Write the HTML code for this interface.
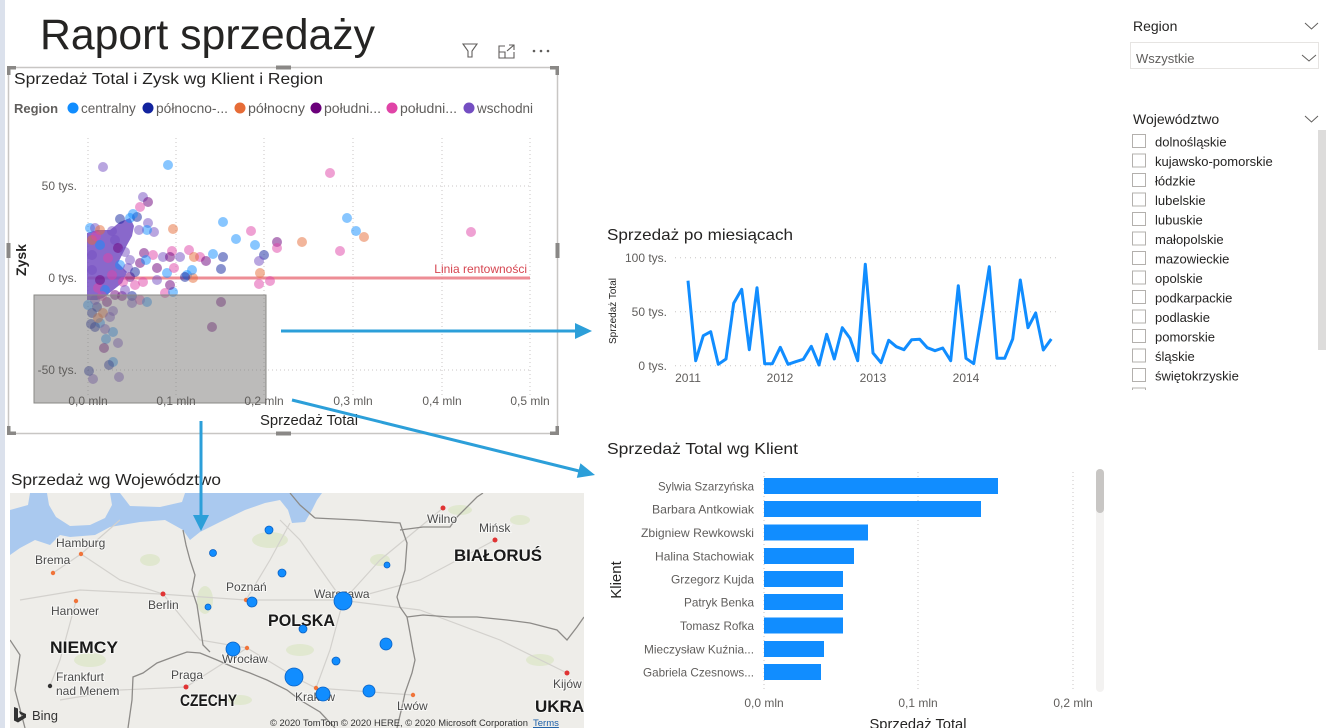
<!DOCTYPE html>
<html><head><meta charset="utf-8">
<style>
html,body{margin:0;padding:0;background:#fff;}
body{width:1329px;height:728px;overflow:hidden;position:relative;}
svg{position:absolute;left:0;top:0;}
text{font-family:"Liberation Sans",sans-serif;}
.c{fill:#118DFF}.n{fill:#12239E}.o{fill:#E66C37}.p{fill:#6B007B}.k{fill:#E044A7}.w{fill:#744EC2}
.pts circle{fill-opacity:.5}
.ax{fill:#605E5C;font-size:12px}
.city{fill:#4a4a4a;font-size:12px;paint-order:stroke;stroke:#fff;stroke-width:2px;stroke-opacity:.6}
.ctry{fill:#1a1a1a;font-size:17px;font-weight:bold;paint-order:stroke;stroke:#fff;stroke-width:2px;stroke-opacity:.6}
.it{fill:#252423;font-size:13px}
</style></head><body>
<svg width="1329" height="728" viewBox="0 0 1329 728" xmlns="http://www.w3.org/2000/svg">
<rect x="0" y="0" width="5" height="728" fill="#dbe1ec"/>

<text x="40" y="49" font-size="43" fill="#252423" textLength="335" lengthAdjust="spacingAndGlyphs">Raport sprzedaży</text>

<g stroke="#605E5C" stroke-width="1.1" fill="none">
<path d="M463 44 H477 L472 51 V57 H468 V51 Z"/>
<path d="M505 46 H499 V58 H514 V52"/>
<path d="M499 52 H505 V58"/>
<path d="M507 51 L514 45 M509 45 H514 V50"/>
</g>
<g fill="#605E5C"><circle cx="534" cy="51" r="1.3"/><circle cx="541" cy="51" r="1.3"/><circle cx="548" cy="51" r="1.3"/></g>

<rect x="8.5" y="67.5" width="549" height="366" fill="none" stroke="#c8c6c4" stroke-width="1.5"/>
<g fill="#8a8886">
<rect x="7" y="66" width="9" height="3.5"/><rect x="7" y="66" width="3.5" height="9"/>
<rect x="550" y="66" width="9" height="3.5"/><rect x="555.5" y="66" width="3.5" height="9"/>
<rect x="7" y="431.5" width="9" height="3.5"/><rect x="7" y="426" width="3.5" height="9"/>
<rect x="550" y="431.5" width="9" height="3.5"/><rect x="555.5" y="426" width="3.5" height="9"/>
<rect x="276" y="65.5" width="15" height="4"/><rect x="276" y="431.5" width="15" height="4"/>
<rect x="6.5" y="243" width="4" height="15"/><rect x="555.5" y="243" width="4" height="15"/>
</g>
<text x="14" y="84" font-size="16" fill="#252423" textLength="309" lengthAdjust="spacingAndGlyphs">Sprzedaż Total i Zysk wg Klient i Region</text>

<text x="14" y="113" font-size="13" font-weight="bold" fill="#605E5C">Region</text>
<circle cx="73" cy="108" r="5.5" class="c"/><text x="81" y="113" font-size="13.5" fill="#605E5C">centralny</text>
<circle cx="148" cy="108" r="5.5" class="n"/><text x="156" y="113" font-size="13.5" fill="#605E5C" textLength="72" lengthAdjust="spacingAndGlyphs">północno-...</text>
<circle cx="240" cy="108" r="5.5" class="o"/><text x="248" y="113" font-size="13.5" fill="#605E5C" textLength="57" lengthAdjust="spacingAndGlyphs">północny</text>
<circle cx="316" cy="108" r="5.5" class="p"/><text x="324" y="113" font-size="13.5" fill="#605E5C" textLength="57" lengthAdjust="spacingAndGlyphs">południ...</text>
<circle cx="392" cy="108" r="5.5" class="k"/><text x="400" y="113" font-size="13.5" fill="#605E5C" textLength="57" lengthAdjust="spacingAndGlyphs">południ...</text>
<circle cx="469" cy="108" r="5.5" class="w"/><text x="477" y="113" font-size="13.5" fill="#605E5C" textLength="56" lengthAdjust="spacingAndGlyphs">wschodni</text>

<g stroke="#c8c6c4" stroke-width="1" stroke-dasharray="1 3">
<line x1="88" y1="186" x2="530" y2="186"/>
<line x1="88" y1="370" x2="530" y2="370"/>
<line x1="88" y1="138" x2="88" y2="396"/>
<line x1="176" y1="138" x2="176" y2="396"/>
<line x1="264" y1="138" x2="264" y2="396"/>
<line x1="353" y1="138" x2="353" y2="396"/>
<line x1="442" y1="138" x2="442" y2="396"/>
<line x1="530" y1="138" x2="530" y2="396"/>
</g>

<line x1="88" y1="278" x2="530" y2="278" stroke="#E8707A" stroke-width="3" stroke-opacity=".8"/>
<text x="527" y="273" font-size="12" fill="#D64550" text-anchor="end">Linia rentowności</text>

<polygon points="87,233 97,230 110,230 120,222 130,218 134,226 132,236 127,245 122,255 118,263 127,272 122,283 112,291 103,298 97,300 87,300" fill="#744EC2" fill-opacity=".85"/>
<g class="pts">
<circle cx="103" cy="167" r="5" class="w"/>
<circle cx="168" cy="165" r="5" class="c"/>
<circle cx="330" cy="173" r="5" class="k"/>
<circle cx="143" cy="197" r="5" class="w"/>
<circle cx="148" cy="202" r="5" class="p"/>
<circle cx="140" cy="207" r="5" class="k"/>
<circle cx="223" cy="222" r="5" class="c"/>
<circle cx="173" cy="229" r="5" class="o"/>
<circle cx="120" cy="219" r="5" class="n"/>
<circle cx="130" cy="218" r="5" class="c"/>
<circle cx="137" cy="217" r="5" class="n"/>
<circle cx="133" cy="214" r="5" class="c"/>
<circle cx="90" cy="228" r="5" class="c"/>
<circle cx="95" cy="228" r="5" class="w"/>
<circle cx="100" cy="230" r="5" class="o"/>
<circle cx="112" cy="231" r="5" class="w"/>
<circle cx="148" cy="223" r="5" class="w"/>
<circle cx="154" cy="232" r="5" class="w"/>
<circle cx="147" cy="230" r="5" class="c"/>
<circle cx="139" cy="230" r="5" class="w"/>
<circle cx="251" cy="231" r="5" class="k"/>
<circle cx="236" cy="239" r="5" class="c"/>
<circle cx="255" cy="245" r="5" class="c"/>
<circle cx="277" cy="242" r="5" class="p"/>
<circle cx="277" cy="248" r="5" class="k"/>
<circle cx="264" cy="255" r="5" class="n"/>
<circle cx="259" cy="261" r="5" class="w"/>
<circle cx="260" cy="273" r="5" class="o"/>
<circle cx="259" cy="284" r="5" class="k"/>
<circle cx="270" cy="281" r="5" class="k"/>
<circle cx="213" cy="254" r="5" class="c"/>
<circle cx="223" cy="257" r="5" class="n"/>
<circle cx="221" cy="269" r="5" class="n"/>
<circle cx="189" cy="250" r="5" class="k"/>
<circle cx="200" cy="257" r="5" class="k"/>
<circle cx="206" cy="261" r="5" class="p"/>
<circle cx="194" cy="257" r="5" class="o"/>
<circle cx="180" cy="257" r="5" class="w"/>
<circle cx="172" cy="251" r="5" class="k"/>
<circle cx="163" cy="257" r="5" class="w"/>
<circle cx="170" cy="257" r="5" class="p"/>
<circle cx="144" cy="253" r="5" class="p"/>
<circle cx="153" cy="255" r="5" class="k"/>
<circle cx="130" cy="260" r="5" class="w"/>
<circle cx="140" cy="263" r="5" class="p"/>
<circle cx="146" cy="260" r="5" class="c"/>
<circle cx="157" cy="268" r="5" class="p"/>
<circle cx="167" cy="273" r="5" class="c"/>
<circle cx="174" cy="268" r="5" class="k"/>
<circle cx="187" cy="275" r="5" class="c"/>
<circle cx="193" cy="278" r="5" class="o"/>
<circle cx="192" cy="270" r="5" class="c"/>
<circle cx="185" cy="277" r="5" class="n"/>
<circle cx="165" cy="293" r="5" class="k"/>
<circle cx="173" cy="292" r="5" class="c"/>
<circle cx="170" cy="285" r="5" class="p"/>
<circle cx="157" cy="280" r="5" class="w"/>
<circle cx="143" cy="282" r="5" class="k"/>
<circle cx="135" cy="285" r="5" class="k"/>
<circle cx="130" cy="277" r="5" class="p"/>
<circle cx="123" cy="282" r="5" class="k"/>
<circle cx="122" cy="296" r="5" class="p"/>
<circle cx="132" cy="296" r="5" class="n"/>
<circle cx="140" cy="300" r="5" class="k"/>
<circle cx="147" cy="302" r="5" class="c"/>
<circle cx="132" cy="303" r="5" class="w"/>
<circle cx="221" cy="302" r="5" class="p"/>
<circle cx="212" cy="327" r="5" class="p"/>
<circle cx="97" cy="307" r="5" class="n"/>
<circle cx="107" cy="302" r="5" class="p"/>
<circle cx="113" cy="311" r="5" class="w"/>
<circle cx="103" cy="313" r="5" class="o"/>
<circle cx="92" cy="313" r="5" class="n"/>
<circle cx="110" cy="317" r="5" class="w"/>
<circle cx="91" cy="324" r="5" class="n"/>
<circle cx="100" cy="323" r="5" class="c"/>
<circle cx="113" cy="332" r="5" class="c"/>
<circle cx="105" cy="329" r="5" class="w"/>
<circle cx="106" cy="339" r="5" class="c"/>
<circle cx="118" cy="343" r="5" class="w"/>
<circle cx="104" cy="348" r="5" class="p"/>
<circle cx="113" cy="362" r="5" class="c"/>
<circle cx="109" cy="365" r="5" class="n"/>
<circle cx="119" cy="377" r="5" class="w"/>
<circle cx="93" cy="379" r="5" class="w"/>
<circle cx="89" cy="371" r="5" class="n"/>
<circle cx="95" cy="327" r="5" class="n"/>
<circle cx="347" cy="218" r="5" class="c"/>
<circle cx="356" cy="231" r="5" class="c"/>
<circle cx="364" cy="237" r="5" class="o"/>
<circle cx="471" cy="232" r="5" class="k"/>
<circle cx="340" cy="251" r="5" class="k"/>
<circle cx="302" cy="242" r="5" class="o"/>
<circle cx="92" cy="240" r="5" class="o"/>
<circle cx="96" cy="236" r="5" class="k"/>
<circle cx="100" cy="245" r="5" class="c"/>
<circle cx="115" cy="240" r="5" class="w"/>
<circle cx="118" cy="248" r="5" class="p"/>
<circle cx="125" cy="252" r="5" class="w"/>
<circle cx="108" cy="258" r="5" class="k"/>
<circle cx="120" cy="265" r="5" class="c"/>
<circle cx="128" cy="268" r="5" class="w"/>
<circle cx="135" cy="272" r="5" class="n"/>
<circle cx="112" cy="275" r="5" class="k"/>
<circle cx="98" cy="288" r="5" class="k"/>
<circle cx="105" cy="290" r="5" class="c"/>
<circle cx="115" cy="295" r="5" class="p"/>
<circle cx="125" cy="290" r="5" class="w"/>
<circle cx="95" cy="300" r="5" class="w"/>
<circle cx="102" cy="296" r="5" class="k"/>
<circle cx="88" cy="305" r="5" class="c"/>
<circle cx="98" cy="318" r="5" class="o"/>
<circle cx="92" cy="255" r="5" class="w"/>
<circle cx="92" cy="270" r="5" class="w"/>
<circle cx="100" cy="280" r="5" class="p"/>
</g>

<rect x="34" y="295" width="232" height="108" fill="#797775" fill-opacity=".5" stroke="#8a8886" stroke-width="1"/>

<text x="77" y="190" class="ax" text-anchor="end">50 tys.</text>
<text x="77" y="282" class="ax" text-anchor="end">0 tys.</text>
<text x="77" y="374" class="ax" text-anchor="end">-50 tys.</text>
<text x="88" y="405" class="ax" text-anchor="middle">0,0 mln</text>
<text x="176" y="405" class="ax" text-anchor="middle">0,1 mln</text>
<text x="264" y="405" class="ax" text-anchor="middle">0,2 mln</text>
<text x="353" y="405" class="ax" text-anchor="middle">0,3 mln</text>
<text x="442" y="405" class="ax" text-anchor="middle">0,4 mln</text>
<text x="530" y="405" class="ax" text-anchor="middle">0,5 mln</text>
<text x="26" y="260" font-size="14" font-weight="bold" fill="#252423" text-anchor="middle" transform="rotate(-90 26 260)">Zysk</text>
<text x="309" y="425" font-size="15" fill="#252423" text-anchor="middle" textLength="98" lengthAdjust="spacingAndGlyphs">Sprzedaż Total</text>

<text x="607" y="240" font-size="16" fill="#252423" textLength="186" lengthAdjust="spacingAndGlyphs">Sprzedaż po miesiącach</text>
<g stroke="#c8c6c4" stroke-width="1" stroke-dasharray="1 4">
<line x1="675" y1="257.7" x2="1058" y2="257.7"/>
<line x1="675" y1="311.7" x2="1058" y2="311.7"/>
<line x1="675" y1="365.7" x2="1058" y2="365.7"/>
</g>
<text x="667" y="262" class="ax" text-anchor="end">100 tys.</text>
<text x="667" y="316" class="ax" text-anchor="end">50 tys.</text>
<text x="667" y="370" class="ax" text-anchor="end">0 tys.</text>
<text x="688" y="382" class="ax" text-anchor="middle">2011</text>
<text x="780" y="382" class="ax" text-anchor="middle">2012</text>
<text x="873" y="382" class="ax" text-anchor="middle">2013</text>
<text x="966" y="382" class="ax" text-anchor="middle">2014</text>
<text x="616" y="311" font-size="10" fill="#252423" text-anchor="middle" transform="rotate(-90 616 311)">Sprzedaż Total</text>
<polyline fill="none" stroke="#118DFF" stroke-width="3" stroke-linejoin="round" points="688,280.7 695.7,360.7 703.3,335.7 710.7,331.7 718.3,364.3 726,359 733.7,303.3 741.7,289.3 749.3,349.7 757,287.7 764.7,363.7 772.3,363.7 780.3,347.3 788,364.3 795.7,361.7 803.3,359.3 811.3,346.3 819,365 826.7,334.3 834.3,359 842.3,327.7 850,338.3 857.7,360.7 865.3,264.3 873,353 881,362.7 888.7,340.3 896.3,346.7 904,349.7 911.7,339.7 919.7,339.3 927.3,347.7 935,350.7 942.7,348 950.7,360.7 958.3,285.7 966,358.3 973.7,363.7 981.7,315 989.3,266.7 997,358.3 1004.7,358.3 1012.7,339 1020.3,280 1028,327.7 1035.7,313 1043.3,350 1051.3,339"/>

<text x="607" y="454" font-size="16" fill="#252423" textLength="191" lengthAdjust="spacingAndGlyphs">Sprzedaż Total wg Klient</text>
<g stroke="#c8c6c4" stroke-width="1" stroke-dasharray="1 3">
<line x1="764" y1="472" x2="764" y2="692"/>
<line x1="918" y1="472" x2="918" y2="692"/>
<line x1="1073" y1="472" x2="1073" y2="692"/>
</g>
<g fill="#118DFF">
<rect x="764" y="478" width="234" height="16"/>
<rect x="764" y="501" width="217" height="16"/>
<rect x="764" y="524.5" width="104" height="16"/>
<rect x="764" y="548" width="90" height="16"/>
<rect x="764" y="571" width="79" height="16"/>
<rect x="764" y="594" width="79" height="16"/>
<rect x="764" y="617.5" width="79" height="16"/>
<rect x="764" y="641" width="60" height="16"/>
<rect x="764" y="664" width="57" height="16"/>
</g>
<g class="ax" text-anchor="end">
<text x="754" y="490.5" textLength="96" lengthAdjust="spacingAndGlyphs">Sylwia Szarzyńska</text>
<text x="754" y="513.5" textLength="102" lengthAdjust="spacingAndGlyphs">Barbara Antkowiak</text>
<text x="754" y="537" textLength="113" lengthAdjust="spacingAndGlyphs">Zbigniew Rewkowski</text>
<text x="754" y="560.5" textLength="99" lengthAdjust="spacingAndGlyphs">Halina Stachowiak</text>
<text x="754" y="583.5" textLength="83" lengthAdjust="spacingAndGlyphs">Grzegorz Kujda</text>
<text x="754" y="606.5" textLength="70" lengthAdjust="spacingAndGlyphs">Patryk Benka</text>
<text x="754" y="630" textLength="74" lengthAdjust="spacingAndGlyphs">Tomasz Rofka</text>
<text x="754" y="653.5" textLength="110" lengthAdjust="spacingAndGlyphs">Mieczysław Kuźnia...</text>
<text x="754" y="676.5" textLength="111" lengthAdjust="spacingAndGlyphs">Gabriela Czesnows...</text>
</g>
<text x="764" y="707" class="ax" text-anchor="middle">0,0 mln</text>
<text x="918" y="707" class="ax" text-anchor="middle">0,1 mln</text>
<text x="1073" y="707" class="ax" text-anchor="middle">0,2 mln</text>
<text x="918" y="729" font-size="15" fill="#252423" text-anchor="middle" textLength="97" lengthAdjust="spacingAndGlyphs">Sprzedaż Total</text>
<text x="621" y="580" font-size="15" fill="#252423" text-anchor="middle" transform="rotate(-90 621 580)">Klient</text>
<rect x="1096" y="469" width="8" height="223" rx="4" fill="#f3f2f1"/>
<rect x="1096" y="469" width="8" height="44" rx="4" fill="#c8c6c4"/>

<text x="1133" y="31" font-size="14" fill="#252423">Region</text>
<polyline points="1305,23 1311.5,29 1318,23" fill="none" stroke="#605E5C" stroke-width="1"/>
<rect x="1130.5" y="42.5" width="188" height="26" fill="#fff" stroke="#e6e4e2" stroke-width="1"/>
<text x="1136" y="63" font-size="13" fill="#605E5C">Wszystkie</text>
<polyline points="1302,55 1309,61 1316,55" fill="none" stroke="#605E5C" stroke-width="1"/>
<text x="1133" y="124" font-size="14" fill="#252423">Województwo</text>
<polyline points="1305,116 1311.5,122 1318,116" fill="none" stroke="#605E5C" stroke-width="1"/>
<rect x="1318" y="130" width="8" height="220" fill="#dddcdb"/>
<clipPath id="lc"><rect x="1125" y="128" width="190" height="262"/></clipPath>
<g clip-path="url(#lc)">
<g fill="#fff" stroke="#b3b0ad" stroke-width="1">
<rect x="1132.5" y="134.5" width="13" height="13"/>
<rect x="1132.5" y="154" width="13" height="13"/>
<rect x="1132.5" y="173.5" width="13" height="13"/>
<rect x="1132.5" y="193" width="13" height="13"/>
<rect x="1132.5" y="212.5" width="13" height="13"/>
<rect x="1132.5" y="232" width="13" height="13"/>
<rect x="1132.5" y="251.5" width="13" height="13"/>
<rect x="1132.5" y="271" width="13" height="13"/>
<rect x="1132.5" y="290.5" width="13" height="13"/>
<rect x="1132.5" y="310" width="13" height="13"/>
<rect x="1132.5" y="329.5" width="13" height="13"/>
<rect x="1132.5" y="349" width="13" height="13"/>
<rect x="1132.5" y="368.5" width="13" height="13"/>
<rect x="1132.5" y="388" width="13" height="13"/>
</g>
<text x="1155" y="146.5" class="it">dolnośląskie</text>
<text x="1155" y="166" class="it">kujawsko-pomorskie</text>
<text x="1155" y="185.5" class="it">łódzkie</text>
<text x="1155" y="205" class="it">lubelskie</text>
<text x="1155" y="224.5" class="it">lubuskie</text>
<text x="1155" y="244" class="it">małopolskie</text>
<text x="1155" y="263.5" class="it">mazowieckie</text>
<text x="1155" y="283" class="it">opolskie</text>
<text x="1155" y="302.5" class="it">podkarpackie</text>
<text x="1155" y="322" class="it">podlaskie</text>
<text x="1155" y="341.5" class="it">pomorskie</text>
<text x="1155" y="361" class="it">śląskie</text>
<text x="1155" y="380.5" class="it">świętokrzyskie</text>
<text x="1155" y="400" class="it">warmińsko-mazurskie</text>
</g>

<text x="11" y="485" font-size="16" fill="#252423" textLength="210" lengthAdjust="spacingAndGlyphs">Sprzedaż wg Województwo</text>
<clipPath id="mc"><rect x="10" y="493" width="574" height="235"/></clipPath>
<g clip-path="url(#mc)">
<rect x="10" y="493" width="574" height="235" fill="#eeede9"/>
<g fill="#dde6c9" opacity=".8">
<ellipse cx="270" cy="540" rx="18" ry="8"/>
<ellipse cx="205" cy="600" rx="8" ry="14"/>
<ellipse cx="300" cy="650" rx="14" ry="6"/>
<ellipse cx="380" cy="560" rx="10" ry="6"/>
<ellipse cx="460" cy="510" rx="12" ry="5"/>
<ellipse cx="540" cy="660" rx="14" ry="6"/>
<ellipse cx="90" cy="660" rx="16" ry="7"/>
<ellipse cx="150" cy="560" rx="10" ry="6"/>
<ellipse cx="240" cy="700" rx="12" ry="5"/>
<ellipse cx="520" cy="520" rx="10" ry="5"/>
</g>
<path d="M10 493 H322 L317 500 L312 510 L305 522 L292 523 L288 510 L280 500 L265 503 L245 510 L220 522 L200 532 L190 540 L183 530 L165 520 L140 522 L110 527 L95 535 L70 537 L60 535 L50 545 L35 540 L20 548 L10 555 Z" fill="#aac9ef"/>
<path d="M47 493 H110 L112 505 L105 518 L90 525 L70 526 L56 517 L49 505 Z" fill="#eeede9"/>
<path d="M120 493 H185 L182 502 L160 507 L130 506 Z" fill="#eeede9"/>
<path d="M10 493 H30 L28 505 L10 510 Z" fill="#eeede9"/>
<g fill="none" stroke="#d3d1cd" stroke-width="1.2">
<path d="M20 600 L80 590 L160 594 L246 600 L340 600 L420 610"/>
<path d="M81 554 L120 580 L163 594 L200 640 L247 648 L300 680 L316 688 L413 695"/>
<path d="M60 700 L120 690 L186 687 L247 648"/>
<path d="M343 601 L380 560 L443 508"/>
<path d="M343 601 L420 580 L495 540"/>
<path d="M343 601 L330 650 L316 688"/>
<path d="M246 600 L270 560 L290 523"/>
<path d="M343 601 L300 540 L280 520"/>
<path d="M420 610 L500 640 L567 673"/>
<path d="M53 573 L81 554 L120 520"/>
<path d="M76 601 L60 660 L50 686"/>
</g>
<g fill="none" stroke="#8d8b88" stroke-width="1.3">
<path d="M183 530 L186 545 L190 560 L195 575 L192 590 L197 605 L200 625 L203 645 L210 652"/>
<path d="M128 728 L132 700 L133 677 L143 673 L157 663 L173 657 L187 652 L200 653 L217 660 L233 667 L250 673 L267 680 L287 690 L300 700 L320 712 L335 728"/>
<path d="M315 518 L357 520 L400 523 L407 543 L405 570 L397 597 L400 607 L407 617 L410 633 L413 650 L415 660 L412 673 L405 693 L402 707 L397 728"/>
<path d="M407 617 L423 615 L450 617 L477 617 L507 620 L530 623 L557 630 L567 640 L577 627 L584 617"/>
<path d="M400 530 L423 527 L450 527 L457 517 L477 497 L483 493"/>
<path d="M290 493 L300 505 L315 518"/>
<path d="M10 640 L20 655 L15 690 L25 728"/>
</g>
<g>
<circle cx="81" cy="554" r="2.2" fill="#f0743a"/>
<circle cx="53" cy="573" r="2.2" fill="#f0743a"/>
<circle cx="76" cy="601" r="2.2" fill="#f0743a"/>
<circle cx="163" cy="594" r="2.5" fill="#e03434"/>
<circle cx="50" cy="686" r="2.2" fill="#333"/>
<circle cx="186" cy="687" r="2.5" fill="#e03434"/>
<circle cx="246" cy="600" r="2.2" fill="#f0743a"/>
<circle cx="247" cy="648" r="2.2" fill="#f0743a"/>
<circle cx="316" cy="688" r="2.2" fill="#f0743a"/>
<circle cx="413" cy="695" r="2.2" fill="#f0743a"/>
<circle cx="443" cy="508" r="2.5" fill="#e03434"/>
<circle cx="495" cy="540" r="2.5" fill="#e03434"/>
<circle cx="567" cy="673" r="2.5" fill="#e03434"/>
</g>
<text x="56" y="547" class="city">Hamburg</text>
<text x="35" y="564" class="city">Brema</text>
<text x="51" y="615" class="city">Hanower</text>
<text x="148" y="609" class="city">Berlin</text>
<text x="56" y="681" class="city">Frankfurt</text>
<text x="56" y="695" class="city">nad Menem</text>
<text x="171" y="679" class="city">Praga</text>
<text x="226" y="591" class="city">Poznań</text>
<text x="222" y="663" class="city">Wrocław</text>
<text x="314" y="598" class="city">Warszawa</text>
<text x="295" y="701" class="city">Kraków</text>
<text x="397" y="710" class="city">Lwów</text>
<text x="427" y="523" class="city">Wilno</text>
<text x="479" y="532" class="city">Mińsk</text>
<text x="553" y="688" class="city">Kijów</text>
<text x="50" y="653" class="ctry" textLength="68" lengthAdjust="spacingAndGlyphs">NIEMCY</text>
<text x="268" y="626" class="ctry" textLength="67" lengthAdjust="spacingAndGlyphs">POLSKA</text>
<text x="180" y="706" class="ctry" textLength="57" lengthAdjust="spacingAndGlyphs">CZECHY</text>
<text x="454" y="561" class="ctry" textLength="88" lengthAdjust="spacingAndGlyphs">BIAŁORUŚ</text>
<text x="535" y="712" class="ctry">UKRAINA</text>
<g fill="#118DFF" stroke="#0b62c4" stroke-width=".8">
<circle cx="269" cy="530" r="4"/>
<circle cx="213" cy="553" r="3.5"/>
<circle cx="282" cy="573" r="4"/>
<circle cx="252" cy="602" r="5"/>
<circle cx="208" cy="607" r="3"/>
<circle cx="233" cy="649" r="7"/>
<circle cx="294" cy="677" r="9"/>
<circle cx="387" cy="565" r="3"/>
<circle cx="343" cy="601" r="9"/>
<circle cx="303" cy="629" r="4"/>
<circle cx="386" cy="644" r="6"/>
<circle cx="336" cy="661" r="4"/>
<circle cx="323" cy="694" r="7"/>
<circle cx="369" cy="691" r="6"/>
</g>
<path d="M14 707 L18 708.5 V718 L23 715.5 L20 714 L19 711 L26 714 V717.5 L18 722.5 L14 720.5 Z" fill="#333"/>
<text x="32" y="720" font-size="13" fill="#333">Bing</text>
<text x="270" y="726" font-size="9.5" fill="#333" textLength="258" lengthAdjust="spacingAndGlyphs">© 2020 TomTom © 2020 HERE, © 2020 Microsoft Corporation</text>
<text x="533" y="726" font-size="9.5" fill="#1a5ea8" text-decoration="underline">Terms</text>
</g>

<g stroke="#2C9FD9" stroke-width="3" fill="none">
<line x1="281" y1="331" x2="577" y2="331"/>
<line x1="292" y1="400" x2="579" y2="471"/>
<line x1="201" y1="421" x2="201" y2="516"/>
</g>
<g fill="#2C9FD9">
<polygon points="575,323 592,331 575,339"/>
<polygon points="595,475 576.8,477.9 580.4,463.3"/>
<polygon points="193,515 201,531 209,515"/>
</g>
</svg>
</body></html>
